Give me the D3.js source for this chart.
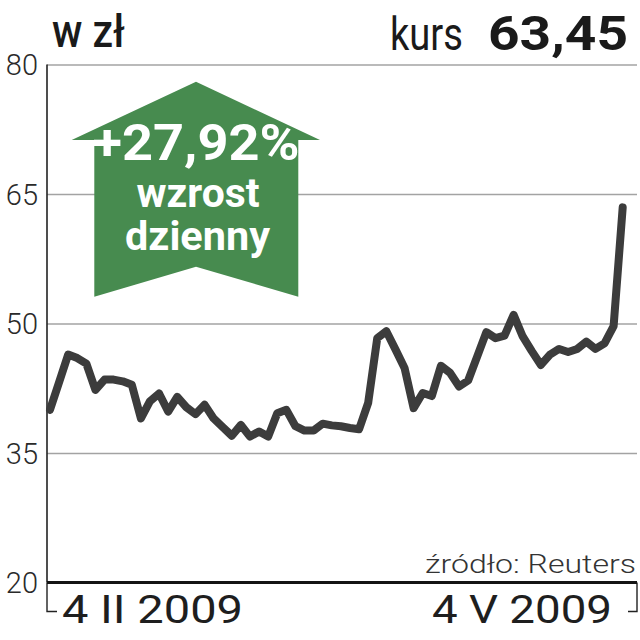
<!DOCTYPE html>
<html>
<head>
<meta charset="utf-8">
<script src="https://cdn.jsdelivr.net/npm/d3@7"></script>
<style>
  html, body { margin: 0; padding: 0; background: #fff; }
  svg { display: block; }
  text { font-family: Roboto, "Noto Sans", "DejaVu Sans", sans-serif; }
</style>
</head>
<body>
<svg id="chart" width="640" height="640"></svg>
<script>
// ---- data ----
const prices = [
  40.0, 43.2, 46.4, 46.0, 45.35, 42.3, 43.5, 43.5, 43.3, 42.9,
  39.0, 41.0, 41.9, 39.8, 41.5, 40.3, 39.5, 40.6, 39.0, 38.0,
  37.0, 38.25, 36.9, 37.5, 36.9, 39.6, 40.0, 38.1, 37.6, 37.6,
  38.4, 38.2, 38.1, 37.9, 37.75, 40.8, 48.3, 49.1, 47.0, 44.85,
  40.2, 41.95, 41.6, 45.1, 44.3, 42.7, 43.4, 46.2, 49.0, 48.3,
  48.6, 51.0, 48.5, 46.8, 45.2, 46.4, 47.05, 46.7, 47.05, 47.9,
  47.05, 47.7, 49.7, 63.45
];
const yTicks = [20, 35, 50, 65, 80];
const dateLabels = ["4 II 2009", "4 V 2009"];
const unitLabel = "w zł";
const priceLabel = "kurs";
const priceValue = "63,45";
const changeLabel = "+27,92%";
const changeText = ["wzrost", "dzienny"];
const sourceLabel = "źródło: Reuters";

// ---- layout ----
const svg = d3.select("#chart");
const left = 47, right = 637;
const x = d3.scaleLinear().domain([0, prices.length - 1]).range([50, 622.7]);
const y = d3.scaleLinear().domain([20, 80]).range([582.5, 64.5]);

// grid + y labels via axis
const yAxis = d3.axisLeft(y).tickValues(yTicks).tickSize(-(right - left)).tickPadding(9);
const gy = svg.append("g").attr("transform", `translate(${left},0)`).call(yAxis);
gy.select(".domain").remove();
gy.selectAll(".tick line").attr("stroke", "#a3a3a3").attr("stroke-width", 1.6);
gy.selectAll(".tick text")
  .attr("fill", "#2a2a2a")
  .attr("font-size", 29)
  .attr("font-weight", 300)
  .attr("dy", "0.36em");

// arrow badge
const ax0 = 71.7, ax1 = 320, bx0 = 94.3, bx1 = 298.3, cx = 196;
const arrowPts = [
  [cx, 81.7], [ax1, 140], [bx1, 140], [bx1, 296.7],
  [cx, 266.7], [bx0, 296.7], [bx0, 140], [ax0, 140]
];
svg.append("polygon")
  .attr("points", arrowPts.map(p => p.join(",")).join(" "))
  .attr("fill", "#478b4f");

svg.append("text").text(changeLabel)
  .attr("x", cx).attr("y", 160).attr("text-anchor", "middle")
  .attr("fill", "#fff").attr("font-weight", 700).attr("font-size", 50)
  .attr("textLength", 207).attr("lengthAdjust", "spacingAndGlyphs");
svg.append("text").text(changeText[0])
  .attr("x", 198).attr("y", 206.5).attr("text-anchor", "middle")
  .attr("fill", "#fff").attr("font-weight", 700).attr("font-size", 40)
  .attr("textLength", 123).attr("lengthAdjust", "spacingAndGlyphs");
svg.append("text").text(changeText[1])
  .attr("x", 197.5).attr("y", 250).attr("text-anchor", "middle")
  .attr("fill", "#fff").attr("font-weight", 700).attr("font-size", 40)
  .attr("textLength", 145).attr("lengthAdjust", "spacingAndGlyphs");

// left axis line and brackets
svg.append("line").attr("x1", left).attr("x2", left).attr("y1", 64.5).attr("y2", 582.5)
  .attr("stroke", "#222").attr("stroke-width", 1.6);
svg.append("path")
  .attr("d", `M${left},582.5 V611.5 H57`)
  .attr("fill", "none").attr("stroke", "#222").attr("stroke-width", 1.4);
svg.append("path")
  .attr("d", `M${right},582.5 V611.5 H628`)
  .attr("fill", "none").attr("stroke", "#222").attr("stroke-width", 1.4);

// base line
svg.append("line").attr("x1", left).attr("x2", right).attr("y1", 582.5).attr("y2", 582.5)
  .attr("stroke", "#141414").attr("stroke-width", 3.2);

// price line
const line = d3.line().x((d, i) => x(i)).y(d => y(d));
svg.append("path").datum(prices)
  .attr("d", line)
  .attr("fill", "none")
  .attr("stroke", "#3c3c3c")
  .attr("stroke-width", 8)
  .attr("stroke-linejoin", "round")
  .attr("stroke-linecap", "round");

// titles
svg.append("text").text(unitLabel)
  .attr("x", 52).attr("y", 46.5)
  .attr("fill", "#1a1a1a").attr("font-size", 46).attr("font-weight", 500)
  .attr("textLength", 73).attr("lengthAdjust", "spacingAndGlyphs");
svg.append("text").text(priceLabel)
  .attr("x", 390).attr("y", 50)
  .attr("fill", "#1a1a1a").attr("font-size", 46).attr("font-weight", 400)
  .attr("textLength", 73).attr("lengthAdjust", "spacingAndGlyphs");
svg.append("text").text(priceValue)
  .attr("x", 488).attr("y", 50)
  .attr("fill", "#1a1a1a").attr("font-size", 49).attr("font-weight", 700)
  .attr("textLength", 140).attr("lengthAdjust", "spacingAndGlyphs");

// source
svg.append("text").text(sourceLabel)
  .attr("x", 636).attr("y", 573).attr("text-anchor", "end")
  .attr("fill", "#333").attr("font-size", 25).attr("font-weight", 300)
  .attr("textLength", 211).attr("lengthAdjust", "spacingAndGlyphs");

// date labels
svg.append("text").text(dateLabels[0])
  .attr("x", x(0) + 12).attr("y", 623)
  .attr("fill", "#1e1e1e").attr("font-size", 39).attr("font-weight", 400)
  .attr("textLength", 181).attr("lengthAdjust", "spacingAndGlyphs");
svg.append("text").text(dateLabels[1])
  .attr("x", 432).attr("y", 623)
  .attr("fill", "#1e1e1e").attr("font-size", 39).attr("font-weight", 400)
  .attr("textLength", 180).attr("lengthAdjust", "spacingAndGlyphs");
</script>
</body>
</html>
